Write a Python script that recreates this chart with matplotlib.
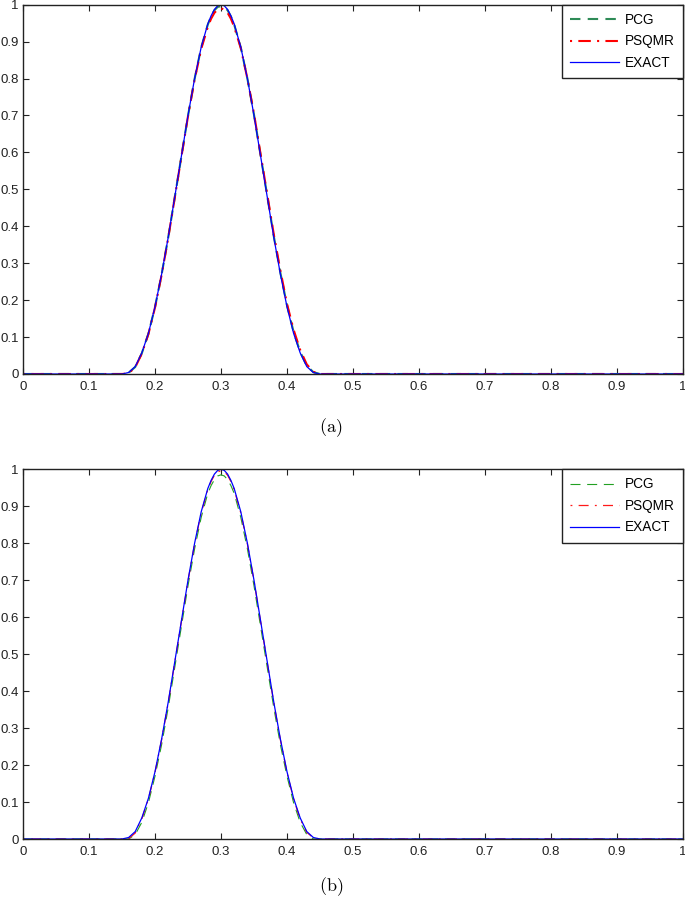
import matplotlib
matplotlib.use("Agg")
import matplotlib.pyplot as plt

plt.rcParams['font.family'] = ['Liberation Sans', 'DejaVu Sans']
plt.rcParams['mathtext.fontset'] = 'cm'

# ---------------- data ----------------
x_nodes = [0, 0.15, 0.16, 0.17, 0.18, 0.19, 0.20, 0.21, 0.22, 0.23, 0.24, 0.25,
           0.26, 0.27, 0.28, 0.285, 0.29, 0.295, 0.30, 0.305, 0.31, 0.315, 0.32, 0.33, 0.34,
           0.35, 0.36, 0.37, 0.38, 0.39, 0.40, 0.41, 0.42, 0.43, 0.44, 0.45, 1.0]

exact_y = [0, 0, 0.004, 0.02, 0.057, 0.11, 0.182, 0.27, 0.37, 0.48, 0.59, 0.70,
           0.80, 0.885, 0.948, 0.97, 0.987, 0.997, 1.0, 0.997, 0.987, 0.97, 0.948, 0.885, 0.80,
           0.70, 0.59, 0.48, 0.37, 0.27, 0.182, 0.11, 0.057, 0.02, 0.004, 0, 0]

pcg_a_y = [0, 0, 0.003, 0.019, 0.056, 0.109, 0.181, 0.269, 0.369, 0.479, 0.589, 0.699,
           0.799, 0.884, 0.946, 0.968, 0.985, 0.994, 0.996, 0.994, 0.985, 0.968, 0.946, 0.884, 0.80,
           0.702, 0.592, 0.483, 0.373, 0.274, 0.186, 0.114, 0.06, 0.022, 0.005, 0, 0]

psqmr_a_y = [0, 0, 0.002, 0.018, 0.055, 0.108, 0.18, 0.268, 0.368, 0.478, 0.588, 0.698,
             0.797, 0.88, 0.94, 0.962, 0.978, 0.987, 0.99, 0.987, 0.978, 0.962, 0.94, 0.882, 0.80,
             0.705, 0.595, 0.487, 0.378, 0.28, 0.19, 0.12, 0.065, 0.026, 0.006, 0, 0]

pcg_b_y = [0, 0, 0.0, 0.012, 0.045, 0.098, 0.17, 0.255, 0.355, 0.465, 0.575, 0.685,
           0.785, 0.87, 0.935, 0.956, 0.972, 0.982, 0.985, 0.982, 0.972, 0.956, 0.935, 0.87, 0.785,
           0.685, 0.575, 0.465, 0.355, 0.255, 0.17, 0.098, 0.045, 0.012, 0.0, 0, 0]

psqmr_b_y = [0, 0, 0.001, 0.016, 0.054, 0.108, 0.18, 0.268, 0.368, 0.478, 0.588, 0.698,
             0.798, 0.882, 0.945, 0.967, 0.984, 0.993, 0.996, 0.993, 0.984, 0.967, 0.945, 0.882, 0.798,
             0.698, 0.588, 0.478, 0.368, 0.268, 0.18, 0.108, 0.054, 0.018, 0.003, 0, 0]

tick_vals = [0, 0.1, 0.2, 0.3, 0.4, 0.5, 0.6, 0.7, 0.8, 0.9, 1]
tick_labels = ['0', '0.1', '0.2', '0.3', '0.4', '0.5', '0.6', '0.7', '0.8', '0.9', '1']
series_names = ['PCG', 'PSQMR', 'EXACT']
captions = ['(a)', '(b)']

# ---------------- figure ----------------
W, H = 685, 902
fig = plt.figure(figsize=(W / 100, H / 100), dpi=100)


def make_axes(top_px, bottom_px):
    left_px, right_px = 23, 683
    return fig.add_axes([left_px / W, 1 - bottom_px / H,
                         (right_px - left_px) / W, (bottom_px - top_px) / H])


def style_axes(ax):
    ax.set_xlim(0, 1)
    ax.set_ylim(0, 1)
    ax.set_xticks(tick_vals)
    ax.set_xticklabels(tick_labels)
    ax.set_yticks(tick_vals)
    ax.set_yticklabels(tick_labels)
    ax.tick_params(direction='in', top=True, right=True, length=4, width=0.8,
                   labelsize=9.5, colors='#222222', pad=3)
    ax.tick_params(axis='x', pad=5)
    for s in ax.spines.values():
        s.set_color('#222222')
        s.set_linewidth(1.0)


def add_legend(ax):
    leg = ax.legend(loc='upper right', borderaxespad=0, fancybox=False, framealpha=1,
                    edgecolor='#222222', fontsize=9.8, handlelength=3.6, handletextpad=0.45,
                    labelspacing=0.55, borderpad=0.6)
    leg.get_frame().set_linewidth(1.0)


# panel (a)
axa = make_axes(4.7, 374)
axa.plot(x_nodes, pcg_a_y, color='#2e8b57', lw=1.5, dashes=(5, 3.5), label=series_names[0])
axa.plot(x_nodes, psqmr_a_y, color='#ff0000', lw=1.5, dashes=(1, 3, 6, 3), label=series_names[1])
axa.plot(x_nodes, exact_y, color='#0000ff', lw=0.9, label=series_names[2])
style_axes(axa)
add_legend(axa)

# panel (b)
axb = make_axes(469.3, 839)
axb.plot(x_nodes, pcg_b_y, color='#22a022', lw=0.8, dashes=(9, 6), label=series_names[0])
axb.plot(x_nodes, psqmr_b_y, color='#ff1a1a', lw=0.9, dashes=(1.5, 5, 8, 5), label=series_names[1])
axb.plot(x_nodes, exact_y, color='#0000ff', lw=0.9, label=series_names[2])
style_axes(axb)
add_legend(axb)

fig.text(331 / W, 1 - 428 / H, r'$\mathrm{' + captions[0] + '}$', ha='center', va='center', fontsize=13)
fig.text(331 / W, 1 - 887 / H, r'$\mathrm{' + captions[1] + '}$', ha='center', va='center', fontsize=13)

fig.savefig('out.png', dpi=100)
